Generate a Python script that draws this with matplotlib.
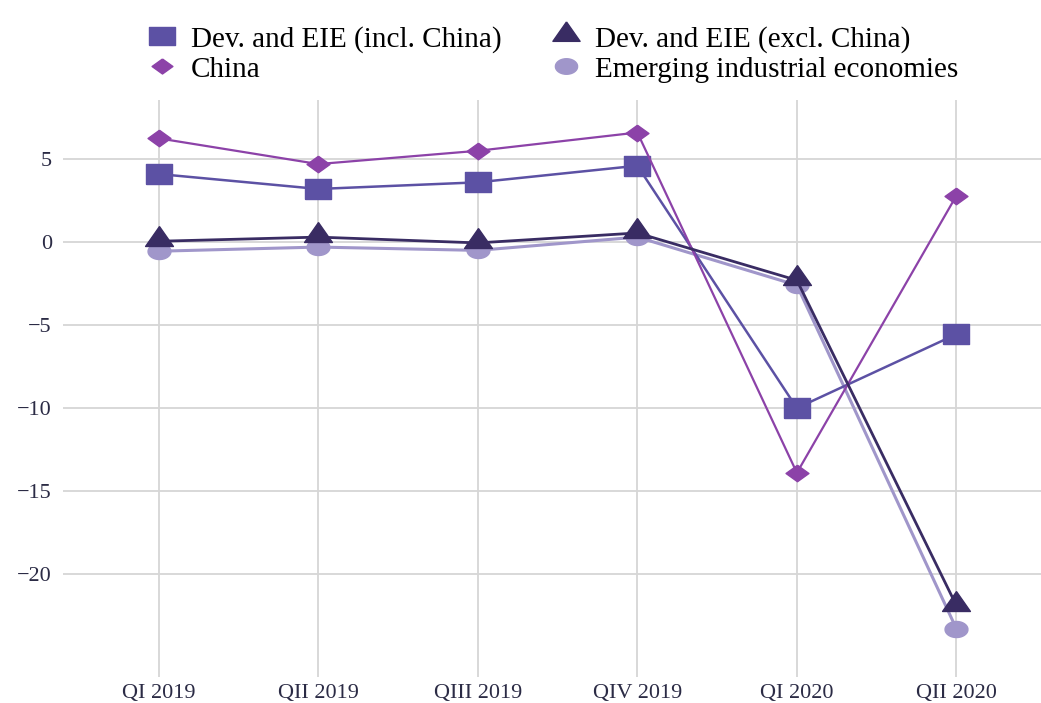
import numpy as np
import matplotlib as mpl
mpl.use('Agg')
import matplotlib.pyplot as plt
from matplotlib.lines import Line2D

quarters = ['QI 2019', 'QII 2019', 'QIII 2019', 'QIV 2019', 'QI 2020', 'QII 2020']
dev_incl_china = [4.1, 3.2, 3.6, 4.6, -10.0, -5.55]
china = [6.25, 4.7, 5.5, 6.6, -13.9, 2.8]
dev_excl_china = [0.05, 0.3, -0.05, 0.55, -2.3, -21.9]
emerging_ind = [-0.55, -0.3, -0.5, 0.3, -2.6, -23.3]

y_ticks = [5, 0, -5, -10, -15, -20]

# the reference is stretched sideways, so the markers are wide
sq_verts = [(-1.4, -1.0), (1.4, -1.0), (1.4, 1.0), (-1.4, 1.0), (-1.4, -1.0)]
dia_verts = [(0, 0.72), (1.0, 0), (0, -0.72), (-1.0, 0), (0, 0.72)]
tri_verts = [(0, 0.75), (0.7, -0.25), (-0.7, -0.25), (0, 0.75)]
t = np.linspace(0, 2 * np.pi, 40)
ell_verts = list(zip(np.cos(t), 0.7 * np.sin(t)))

c_incl = '#5c51a4'
c_china = '#8c42a8'
c_excl = '#392c63'
c_eie = '#a096ca'

plt.rcParams['font.family'] = ['Liberation Serif', 'DejaVu Serif']

fig = plt.figure(figsize=(10.41, 7.03), dpi=100)
ax = fig.add_axes([0.0605, 0.037, 0.9395, 0.821])

x = np.arange(len(quarters))
ax.plot(x, emerging_ind, color=c_eie, lw=2.2, marker=ell_verts, ms=16.5,
        mfc=c_eie, mec=c_eie, zorder=3)
ax.plot(x, dev_incl_china, color=c_incl, lw=1.8, marker=sq_verts, ms=19.4,
        mfc=c_incl, mec=c_incl, zorder=4)
ax.plot(x, china, color=c_china, lw=1.6, marker=dia_verts, ms=16.5,
        mfc=c_china, mec=c_china, zorder=5)
ax.plot(x, dev_excl_china, color=c_excl, lw=2.0, marker=tri_verts, ms=21.5,
        mfc=c_excl, mec=c_excl, zorder=6)

ax.set_xlim(-0.6, 5.53)
ax.set_ylim(-26.2, 8.57)
ax.set_xticks(x)
ax.set_xticklabels(quarters)
ax.set_yticks(y_ticks)
ax.grid(True, color='#d6d6d6', lw=1.3)
ax.set_axisbelow(True)
for s in ax.spines.values():
    s.set_visible(False)
ax.tick_params(length=0, labelsize=16, colors='#2b2b45', pad=5)
ax.tick_params(axis='y', pad=8)

handles = [
    Line2D([0], [0], ls='none', marker=sq_verts, ms=19, color=c_incl, label='Dev. and EIE (incl. China)'),
    Line2D([0], [0], ls='none', marker=dia_verts, ms=15, color=c_china, label='China'),
    Line2D([0], [0], ls='none', marker=tri_verts, ms=21, color=c_excl, label='Dev. and EIE (excl. China)'),
    Line2D([0], [0], ls='none', marker=ell_verts, ms=16, color=c_eie, label='Emerging industrial economies'),
]
fig.legend(handles=handles, ncol=2, loc='upper left', bbox_to_anchor=(0.13, 0.98),
           frameon=False, fontsize=21, handlelength=1.0, handletextpad=0.5,
           columnspacing=1.7, labelspacing=0.12, borderaxespad=0)

fig.savefig('out.png', dpi=100)
